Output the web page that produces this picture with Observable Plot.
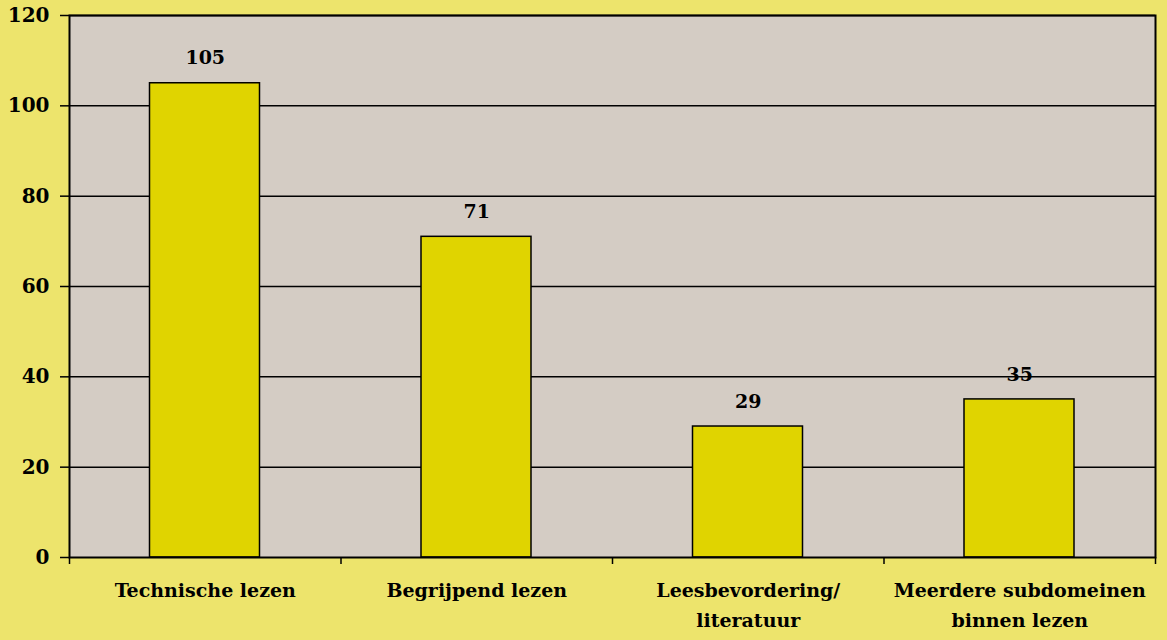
<!DOCTYPE html>
<html>
<head>
<meta charset="utf-8">
<script src="https://cdn.jsdelivr.net/npm/d3@7"></script>
<script src="https://cdn.jsdelivr.net/npm/@observablehq/plot@0.6"></script>
<style>
  html, body { margin: 0; padding: 0; background: #ede46c; }
  #chart svg { display: block; }
</style>
</head>
<body>
<div id="chart"></div>
<script>
const categories = ["Technische lezen", "Begrijpend lezen", "Leesbevordering/\nliteratuur", "Meerdere subdomeinen\nbinnen lezen"];
const values = [105, 71, 29, 35];
const yTicks = [0, 20, 40, 60, 80, 100, 120];

const data = categories.map((c, i) => ({category: c, value: values[i], idx: i}));
const font = "'DejaVu Serif', serif";

const chart = Plot.plot({
  width: 1167,
  height: 640,
  marginLeft: 69,
  marginRight: 12,
  marginTop: 15,
  marginBottom: 83,
  style: {background: "#ede46c", fontFamily: font, color: "black"},
  x: {type: "linear", domain: [0, categories.length], axis: null},
  y: {domain: [0, 120], axis: null},
  marks: [
    Plot.frame({fill: "#d4ccc4", stroke: "none"}),
    Plot.gridY(yTicks.filter(d => d > 0), {stroke: "black", strokeOpacity: 1, strokeWidth: 1.5}),
    Plot.rectY(data, {
      x1: d => d.idx, x2: d => d.idx + 1, y: "value",
      insetLeft: 80.5, insetRight: 81,
      fill: "#e0d400", stroke: "black", strokeWidth: 1.5
    }),
    Plot.text(data, {
      x: d => d.idx + 0.5, y: "value", text: d => String(d.value),
      dy: -25, fontSize: 19, fontWeight: "bold", lineAnchor: "middle", fill: "black"
    }),
    Plot.frame({stroke: "black", strokeWidth: 2}),
    Plot.axisY({ticks: yTicks, label: null, tickSize: 9, tickPadding: 11, fontSize: 20, fontWeight: "bold", stroke: "black", strokeWidth: 1.5, tickFormat: d => String(d)}),
    Plot.axisX({ticks: d3.range(categories.length + 1), label: null, tickSize: 7, tickFormat: () => "", stroke: "black", strokeWidth: 1.5}),
    Plot.text(data, {
      x: d => d.idx + 0.5, text: "category", frameAnchor: "bottom",
      dy: 19, lineAnchor: "top", lineHeight: 1.55,
      fontSize: 19, fontWeight: "bold", fill: "black"
    })
  ]
});
document.getElementById("chart").appendChild(chart);
</script>
</body>
</html>
